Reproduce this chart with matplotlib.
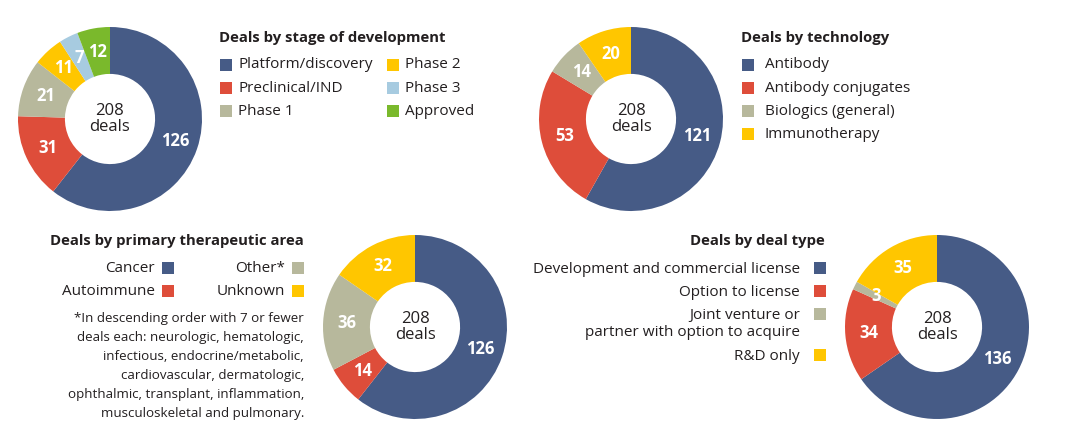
import matplotlib
matplotlib.use("Agg")
import matplotlib.pyplot as plt
from matplotlib.patches import Rectangle

plt.rcParams["font.family"] = ["Open Sans", "DejaVu Sans"]

# colours
BLUE   = "#465b86"
RED    = "#de4d3a"
TAN    = "#b7b89c"
YELLOW = "#ffc600"
LBLUE  = "#a7cbe0"
GREEN  = "#7ab92c"
TXT    = "#231f20"

# --- data ---
stage_labels = ["Platform/discovery", "Preclinical/IND", "Phase 1", "Phase 2", "Phase 3", "Approved"]
stage_values = [126, 31, 21, 11, 7, 12]
stage_colors = [BLUE, RED, TAN, YELLOW, LBLUE, GREEN]

tech_labels = ["Antibody", "Antibody conjugates", "Biologics (general)", "Immunotherapy"]
tech_values = [121, 53, 14, 20]
tech_colors = [BLUE, RED, TAN, YELLOW]

area_labels = ["Cancer", "Autoimmune", "Other*", "Unknown"]
area_values = [126, 14, 36, 32]
area_colors = [BLUE, RED, TAN, YELLOW]

type_labels = ["Development and commercial license", "Option to license",
               "Joint venture or\npartner with option to acquire", "R&D only"]
type_values = [136, 34, 3, 35]
type_colors = [BLUE, RED, TAN, YELLOW]

footnote = ("*In descending order with 7 or fewer\n"
            "deals each: neurologic, hematologic,\n"
            "infectious, endocrine/metabolic,\n"
            "cardiovascular, dermatologic,\n"
            "ophthalmic, transplant, inflammation,\n"
            "musculoskeletal and pulmonary.")

W, H = 1080, 436
fig = plt.figure(figsize=(W / 100, H / 100), dpi=100)
fig.patch.set_facecolor("white")

# overlay axes in pixel coordinates for text + legend squares
bg = fig.add_axes([0, 0, 1, 1])
bg.set_xlim(0, W)
bg.set_ylim(H, 0)
bg.axis("off")


def donut(cx, cy, r, values, colors):
    ax = fig.add_axes([(cx - r) / W, 1 - (cy + r) / H, 2 * r / W, 2 * r / H])
    total = sum(values)
    ax.pie(
        values, colors=colors, startangle=90, counterclock=False, radius=1,
        wedgeprops=dict(width=0.51, linewidth=0),
        autopct=lambda p: f"{round(p * total / 100)}", pctdistance=0.745,
        textprops=dict(color="white", fontsize=12, fontweight="bold"))
    ax.set_xlim(-1, 1)
    ax.set_ylim(-1, 1)
    ax.set_aspect("equal")
    ax.text(0, 0, f"{total}\ndeals", ha="center", va="center", fontsize=12,
            color=TXT, linespacing=1.05)
    return ax


def square(x, y, c):
    bg.add_patch(Rectangle((x, y - 6), 12, 12, facecolor=c, edgecolor="none"))


donut(110, 119, 92, stage_values, stage_colors)
donut(631, 119, 92, tech_values, tech_colors)
donut(415, 327, 92, area_values, area_colors)
donut(937, 327, 92, type_values, type_colors)

# --- legend 1: stage ---
bg.text(219, 38, "Deals by stage of development", fontsize=10.7, fontweight="bold",
        color=TXT, va="center", ha="left")
for i, (lab, c) in enumerate(zip(stage_labels, stage_colors)):
    col, row = divmod(i, 3)
    x = 220 + col * 167
    y = 65 + row * 23
    square(x, y, c)
    bg.text(x + 18, y, lab, fontsize=11, color=TXT, va="center", ha="left")

# --- legend 2: technology ---
bg.text(741, 38, "Deals by technology", fontsize=10.7, fontweight="bold",
        color=TXT, va="center", ha="left")
for i, (lab, c) in enumerate(zip(tech_labels, tech_colors)):
    y = 65 + i * 23
    square(742, y, c)
    bg.text(765, y, lab, fontsize=11, color=TXT, va="center", ha="left")

# --- legend 3: therapeutic area ---
bg.text(304, 241, "Deals by primary therapeutic area", fontsize=10.7, fontweight="bold",
        color=TXT, va="center", ha="right")
for i, (lab, c) in enumerate(zip(area_labels, area_colors)):
    col, row = divmod(i, 2)
    sx = 162 + col * 130
    y = 268 + row * 23
    square(sx, y, c)
    bg.text(sx - 7, y, lab, fontsize=11, color=TXT, va="center", ha="right")
bg.text(304, 366, footnote, fontsize=9.6, color=TXT, va="center", ha="right",
        linespacing=1.6)

# --- legend 4: deal type ---
bg.text(825, 241, "Deals by deal type", fontsize=10.7, fontweight="bold",
        color=TXT, va="center", ha="right")
type_y = [268, 291, 314, 355]
for lab, c, y in zip(type_labels, type_colors, type_y):
    square(814, y, c)
    bg.text(800, y - 6, lab, fontsize=11, color=TXT, va="top", ha="right",
            linespacing=1.2)

fig.savefig("out.png", dpi=100, facecolor="white")
